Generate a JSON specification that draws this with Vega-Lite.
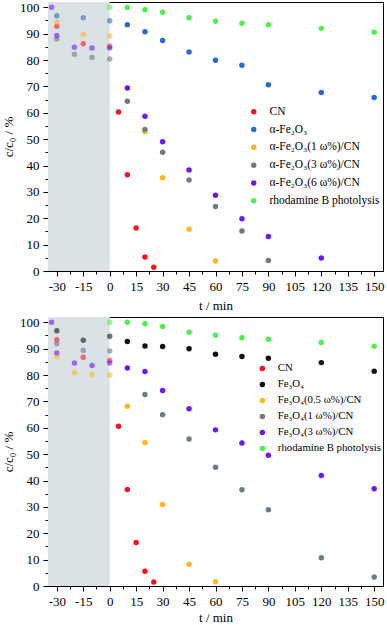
{
  "$schema": "https://vega.github.io/schema/vega-lite/v6.json",
  "padding": {"left": 2, "top": 0, "right": 0, "bottom": 0},
  "background": "white",
  "datasets": {
    "dark": [{"t0": -35, "t1": 0}],
    "a": [
      {"series": "CN", "t": -30, "c": 92.8}, {"series": "CN", "t": -15, "c": 86.2}, {"series": "CN", "t": 0, "c": 85.2},
      {"series": "CN", "t": 5, "c": 60.3}, {"series": "CN", "t": 10, "c": 36.5}, {"series": "CN", "t": 15, "c": 16.3},
      {"series": "CN", "t": 20, "c": 5.3}, {"series": "CN", "t": 25, "c": 1.4},
      {"series": "α-Fe₂O₃", "t": -30, "c": 96.8}, {"series": "α-Fe₂O₃", "t": -15, "c": 96.0}, {"series": "α-Fe₂O₃", "t": 0, "c": 94.9},
      {"series": "α-Fe₂O₃", "t": 10, "c": 93.4}, {"series": "α-Fe₂O₃", "t": 20, "c": 90.7}, {"series": "α-Fe₂O₃", "t": 30, "c": 87.4},
      {"series": "α-Fe₂O₃", "t": 45, "c": 83.0}, {"series": "α-Fe₂O₃", "t": 60, "c": 79.9}, {"series": "α-Fe₂O₃", "t": 75, "c": 78.0},
      {"series": "α-Fe₂O₃", "t": 90, "c": 70.6}, {"series": "α-Fe₂O₃", "t": 120, "c": 67.7}, {"series": "α-Fe₂O₃", "t": 150, "c": 65.8},
      {"series": "α-Fe₂O₃(1 ω%)/CN", "t": -30, "c": 94.4}, {"series": "α-Fe₂O₃(1 ω%)/CN", "t": -15, "c": 89.8}, {"series": "α-Fe₂O₃(1 ω%)/CN", "t": 0, "c": 89.1},
      {"series": "α-Fe₂O₃(1 ω%)/CN", "t": 20, "c": 52.8}, {"series": "α-Fe₂O₃(1 ω%)/CN", "t": 30, "c": 35.4}, {"series": "α-Fe₂O₃(1 ω%)/CN", "t": 45, "c": 15.8},
      {"series": "α-Fe₂O₃(1 ω%)/CN", "t": 60, "c": 3.8},
      {"series": "α-Fe₂O₃(3 ω%)/CN", "t": -30, "c": 88.0}, {"series": "α-Fe₂O₃(3 ω%)/CN", "t": -20, "c": 82.2}, {"series": "α-Fe₂O₃(3 ω%)/CN", "t": -10, "c": 81.0},
      {"series": "α-Fe₂O₃(3 ω%)/CN", "t": 0, "c": 80.4}, {"series": "α-Fe₂O₃(3 ω%)/CN", "t": 10, "c": 64.4}, {"series": "α-Fe₂O₃(3 ω%)/CN", "t": 20, "c": 53.7},
      {"series": "α-Fe₂O₃(3 ω%)/CN", "t": 30, "c": 45.0}, {"series": "α-Fe₂O₃(3 ω%)/CN", "t": 45, "c": 34.5}, {"series": "α-Fe₂O₃(3 ω%)/CN", "t": 60, "c": 24.5},
      {"series": "α-Fe₂O₃(3 ω%)/CN", "t": 75, "c": 15.2}, {"series": "α-Fe₂O₃(3 ω%)/CN", "t": 90, "c": 4.0},
      {"series": "α-Fe₂O₃(6 ω%)/CN", "t": -33, "c": 100.0}, {"series": "α-Fe₂O₃(6 ω%)/CN", "t": -30, "c": 89.3}, {"series": "α-Fe₂O₃(6 ω%)/CN", "t": -20, "c": 84.8},
      {"series": "α-Fe₂O₃(6 ω%)/CN", "t": -10, "c": 84.6}, {"series": "α-Fe₂O₃(6 ω%)/CN", "t": 0, "c": 84.6}, {"series": "α-Fe₂O₃(6 ω%)/CN", "t": 10, "c": 69.4},
      {"series": "α-Fe₂O₃(6 ω%)/CN", "t": 20, "c": 58.7}, {"series": "α-Fe₂O₃(6 ω%)/CN", "t": 30, "c": 49.0}, {"series": "α-Fe₂O₃(6 ω%)/CN", "t": 45, "c": 38.3},
      {"series": "α-Fe₂O₃(6 ω%)/CN", "t": 60, "c": 28.7}, {"series": "α-Fe₂O₃(6 ω%)/CN", "t": 75, "c": 19.8}, {"series": "α-Fe₂O₃(6 ω%)/CN", "t": 90, "c": 13.1},
      {"series": "α-Fe₂O₃(6 ω%)/CN", "t": 120, "c": 4.9},
      {"series": "rhodamine B photolysis", "t": 0, "c": 100.0}, {"series": "rhodamine B photolysis", "t": 10, "c": 99.9}, {"series": "rhodamine B photolysis", "t": 20, "c": 99.1},
      {"series": "rhodamine B photolysis", "t": 30, "c": 98.1}, {"series": "rhodamine B photolysis", "t": 45, "c": 96.0}, {"series": "rhodamine B photolysis", "t": 60, "c": 94.7},
      {"series": "rhodamine B photolysis", "t": 75, "c": 93.9}, {"series": "rhodamine B photolysis", "t": 90, "c": 93.4}, {"series": "rhodamine B photolysis", "t": 120, "c": 92.0},
      {"series": "rhodamine B photolysis", "t": 150, "c": 90.5}
    ],
    "b": [
      {"series": "CN", "t": -30, "c": 93.4}, {"series": "CN", "t": -15, "c": 86.7}, {"series": "CN", "t": 0, "c": 85.5},
      {"series": "CN", "t": 5, "c": 60.6}, {"series": "CN", "t": 10, "c": 36.6}, {"series": "CN", "t": 15, "c": 16.5},
      {"series": "CN", "t": 20, "c": 5.6}, {"series": "CN", "t": 25, "c": 1.5},
      {"series": "Fe₃O₄", "t": -30, "c": 96.8}, {"series": "Fe₃O₄", "t": -15, "c": 93.2}, {"series": "Fe₃O₄", "t": 0, "c": 94.7},
      {"series": "Fe₃O₄", "t": 10, "c": 92.7}, {"series": "Fe₃O₄", "t": 20, "c": 91.0}, {"series": "Fe₃O₄", "t": 30, "c": 90.8},
      {"series": "Fe₃O₄", "t": 45, "c": 90.0}, {"series": "Fe₃O₄", "t": 60, "c": 87.9}, {"series": "Fe₃O₄", "t": 75, "c": 87.0},
      {"series": "Fe₃O₄", "t": 90, "c": 86.4}, {"series": "Fe₃O₄", "t": 120, "c": 84.7}, {"series": "Fe₃O₄", "t": 150, "c": 81.4},
      {"series": "Fe₃O₄(0.5 ω%)/CN", "t": -30, "c": 87.1}, {"series": "Fe₃O₄(0.5 ω%)/CN", "t": -20, "c": 80.9}, {"series": "Fe₃O₄(0.5 ω%)/CN", "t": -10, "c": 80.3},
      {"series": "Fe₃O₄(0.5 ω%)/CN", "t": 0, "c": 80.0}, {"series": "Fe₃O₄(0.5 ω%)/CN", "t": 10, "c": 68.2}, {"series": "Fe₃O₄(0.5 ω%)/CN", "t": 20, "c": 54.4},
      {"series": "Fe₃O₄(0.5 ω%)/CN", "t": 30, "c": 30.9}, {"series": "Fe₃O₄(0.5 ω%)/CN", "t": 45, "c": 8.2}, {"series": "Fe₃O₄(0.5 ω%)/CN", "t": 60, "c": 1.6},
      {"series": "Fe₃O₄(1 ω%)/CN", "t": -30, "c": 91.9}, {"series": "Fe₃O₄(1 ω%)/CN", "t": -15, "c": 89.4}, {"series": "Fe₃O₄(1 ω%)/CN", "t": 0, "c": 89.1},
      {"series": "Fe₃O₄(1 ω%)/CN", "t": 20, "c": 72.6}, {"series": "Fe₃O₄(1 ω%)/CN", "t": 30, "c": 64.9}, {"series": "Fe₃O₄(1 ω%)/CN", "t": 45, "c": 55.7},
      {"series": "Fe₃O₄(1 ω%)/CN", "t": 60, "c": 45.0}, {"series": "Fe₃O₄(1 ω%)/CN", "t": 75, "c": 36.5}, {"series": "Fe₃O₄(1 ω%)/CN", "t": 90, "c": 28.9},
      {"series": "Fe₃O₄(1 ω%)/CN", "t": 120, "c": 10.7}, {"series": "Fe₃O₄(1 ω%)/CN", "t": 150, "c": 3.4},
      {"series": "Fe₃O₄(3 ω%)/CN", "t": -33, "c": 100.0}, {"series": "Fe₃O₄(3 ω%)/CN", "t": -30, "c": 88.4}, {"series": "Fe₃O₄(3 ω%)/CN", "t": -20, "c": 84.6},
      {"series": "Fe₃O₄(3 ω%)/CN", "t": -10, "c": 83.6}, {"series": "Fe₃O₄(3 ω%)/CN", "t": 0, "c": 84.6}, {"series": "Fe₃O₄(3 ω%)/CN", "t": 10, "c": 82.7},
      {"series": "Fe₃O₄(3 ω%)/CN", "t": 20, "c": 81.3}, {"series": "Fe₃O₄(3 ω%)/CN", "t": 30, "c": 74.1}, {"series": "Fe₃O₄(3 ω%)/CN", "t": 45, "c": 67.2},
      {"series": "Fe₃O₄(3 ω%)/CN", "t": 60, "c": 59.2}, {"series": "Fe₃O₄(3 ω%)/CN", "t": 75, "c": 54.2}, {"series": "Fe₃O₄(3 ω%)/CN", "t": 90, "c": 49.6},
      {"series": "Fe₃O₄(3 ω%)/CN", "t": 120, "c": 41.9}, {"series": "Fe₃O₄(3 ω%)/CN", "t": 150, "c": 36.9},
      {"series": "rhodamine B photolysis", "t": 0, "c": 100.0}, {"series": "rhodamine B photolysis", "t": 10, "c": 100.0}, {"series": "rhodamine B photolysis", "t": 20, "c": 99.4},
      {"series": "rhodamine B photolysis", "t": 30, "c": 98.4}, {"series": "rhodamine B photolysis", "t": 45, "c": 96.2}, {"series": "rhodamine B photolysis", "t": 60, "c": 95.1},
      {"series": "rhodamine B photolysis", "t": 75, "c": 94.1}, {"series": "rhodamine B photolysis", "t": 90, "c": 93.6}, {"series": "rhodamine B photolysis", "t": 120, "c": 92.3},
      {"series": "rhodamine B photolysis", "t": 150, "c": 90.9}
    ]
  },
  "config": {
    "font": "Liberation Serif",
    "view": {"stroke": "black", "strokeWidth": 1},
    "axis": {
      "domainColor": "black", "tickColor": "black", "labelColor": "black", "titleColor": "black",
      "labelFont": "Liberation Serif", "titleFont": "Liberation Serif",
      "labelFontSize": 13, "titleFontSize": 13, "titleFontWeight": "normal", "grid": false,
      "labelOverlap": false, "labelFlush": false
    },
    "legend": {
      "labelFont": "Liberation Serif", "labelFontSize": 11.5, "labelColor": "black",
      "symbolType": "circle", "symbolSize": 30, "symbolStrokeWidth": 0, "symbolOpacity": 1,
      "labelOffset": 10, "title": null, "labelLimit": 300
    }
  },
  "spacing": 2,
  "resolve": {"scale": {"color": "independent"}, "legend": {"color": "independent"}},
  "vconcat": [
    {
      "width": 335, "height": 269,
      "layer": [
        {
          "data": {"name": "dark"},
          "mark": {"type": "rect", "color": "#dbe2e5"},
          "encoding": {
            "x": {"field": "t0", "type": "quantitative", "title": "t / min", "scale": {"domain": [-35, 155], "nice": false, "zero": false},
              "axis": {"title": "t / min", "values": [-30, -22.5, -15, -7.5, 0, 7.5, 15, 22.5, 30, 37.5, 45, 52.5, 60, 67.5, 75, 82.5, 90, 97.5, 105, 112.5, 120, 127.5, 135, 142.5, 150], "labelExpr": "datum.value % 15 === 0 ? replace(datum.label, '−', '-') : ''", "tickSize": {"condition": {"test": "datum.value % 15 === 0", "value": 5}, "value": 3}, "labelPadding": 4, "titlePadding": 6}},
            "x2": {"field": "t1"},
            "y": {"datum": 0, "type": "quantitative", "title": "c/c₀ / %", "scale": {"domain": [0, 102], "nice": false},
              "axis": {"title": "c/c₀ / %", "values": [0, 5, 10, 15, 20, 25, 30, 35, 40, 45, 50, 55, 60, 65, 70, 75, 80, 85, 90, 95, 100], "labelExpr": "datum.value % 10 === 0 ? datum.label : ''", "tickSize": {"condition": {"test": "datum.value % 10 === 0", "value": 5}, "value": 3}, "labelPadding": 4, "titlePadding": 4}},
            "y2": {"datum": 102}
          }
        },
        {
          "mark": {"type": "text", "text": "dark", "color": "#5f6f7c", "fontSize": 12, "align": "left", "baseline": "alphabetic", "dx": 11, "dy": -6},
          "encoding": {
            "x": {"datum": -35, "type": "quantitative", "title": "t / min", "scale": {"domain": [-35, 155], "nice": false, "zero": false},
              "axis": {"title": "t / min", "values": [-30, -22.5, -15, -7.5, 0, 7.5, 15, 22.5, 30, 37.5, 45, 52.5, 60, 67.5, 75, 82.5, 90, 97.5, 105, 112.5, 120, 127.5, 135, 142.5, 150], "labelExpr": "datum.value % 15 === 0 ? replace(datum.label, '−', '-') : ''", "tickSize": {"condition": {"test": "datum.value % 15 === 0", "value": 5}, "value": 3}, "labelPadding": 4, "titlePadding": 6}},
            "y": {"datum": 0, "type": "quantitative", "title": "c/c₀ / %", "scale": {"domain": [0, 102], "nice": false},
              "axis": {"title": "c/c₀ / %", "values": [0, 5, 10, 15, 20, 25, 30, 35, 40, 45, 50, 55, 60, 65, 70, 75, 80, 85, 90, 95, 100], "labelExpr": "datum.value % 10 === 0 ? datum.label : ''", "tickSize": {"condition": {"test": "datum.value % 10 === 0", "value": 5}, "value": 3}, "labelPadding": 4, "titlePadding": 4}}
          }
        },
        {
          "mark": {"type": "text", "text": "a)", "color": "black", "fontSize": 14, "align": "left", "baseline": "middle", "dx": -48, "dy": 4},
          "encoding": {
            "x": {"datum": -35, "type": "quantitative", "title": "t / min", "scale": {"domain": [-35, 155], "nice": false, "zero": false},
              "axis": {"title": "t / min", "values": [-30, -22.5, -15, -7.5, 0, 7.5, 15, 22.5, 30, 37.5, 45, 52.5, 60, 67.5, 75, 82.5, 90, 97.5, 105, 112.5, 120, 127.5, 135, 142.5, 150], "labelExpr": "datum.value % 15 === 0 ? replace(datum.label, '−', '-') : ''", "tickSize": {"condition": {"test": "datum.value % 15 === 0", "value": 5}, "value": 3}, "labelPadding": 4, "titlePadding": 6}},
            "y": {"datum": 100, "type": "quantitative", "title": "c/c₀ / %", "scale": {"domain": [0, 102], "nice": false},
              "axis": {"title": "c/c₀ / %", "values": [0, 5, 10, 15, 20, 25, 30, 35, 40, 45, 50, 55, 60, 65, 70, 75, 80, 85, 90, 95, 100], "labelExpr": "datum.value % 10 === 0 ? datum.label : ''", "tickSize": {"condition": {"test": "datum.value % 10 === 0", "value": 5}, "value": 3}, "labelPadding": 4, "titlePadding": 4}}
          }
        },
        {
          "data": {"name": "a"},
          "mark": {"type": "point", "filled": true, "size": 30},
          "encoding": {
            "x": {"field": "t", "type": "quantitative", "title": "t / min", "scale": {"domain": [-35, 155], "nice": false, "zero": false},
              "axis": {"title": "t / min", "values": [-30, -22.5, -15, -7.5, 0, 7.5, 15, 22.5, 30, 37.5, 45, 52.5, 60, 67.5, 75, 82.5, 90, 97.5, 105, 112.5, 120, 127.5, 135, 142.5, 150], "labelExpr": "datum.value % 15 === 0 ? replace(datum.label, '−', '-') : ''", "tickSize": {"condition": {"test": "datum.value % 15 === 0", "value": 5}, "value": 3}, "labelPadding": 4, "titlePadding": 6}},
            "y": {"field": "c", "type": "quantitative", "title": "c/c₀ / %", "scale": {"domain": [0, 102], "nice": false},
              "axis": {"title": "c/c₀ / %", "values": [0, 5, 10, 15, 20, 25, 30, 35, 40, 45, 50, 55, 60, 65, 70, 75, 80, 85, 90, 95, 100], "labelExpr": "datum.value % 10 === 0 ? datum.label : ''", "tickSize": {"condition": {"test": "datum.value % 10 === 0", "value": 5}, "value": 3}, "labelPadding": 4, "titlePadding": 4}},
            "color": {
              "field": "series", "type": "nominal",
              "scale": {
                "domain": ["CN", "α-Fe₂O₃", "α-Fe₂O₃(1 ω%)/CN", "α-Fe₂O₃(3 ω%)/CN", "α-Fe₂O₃(6 ω%)/CN", "rhodamine B photolysis"],
                "range": ["#ff1020", "#2a6bd0", "#ffb81a", "#6d7b87", "#7018f0", "#4cf24c"]
              },
              "legend": {"orient": "none", "legendX": 200, "legendY": 104, "rowPadding": 4.8}
            },
            "opacity": {"condition": {"test": "datum.t <= 0", "value": 0.6}, "value": 1}
          }
        }
      ]
    },
    {
      "width": 335, "height": 269,
      "layer": [
        {
          "data": {"name": "dark"},
          "mark": {"type": "rect", "color": "#dbe2e5"},
          "encoding": {
            "x": {"field": "t0", "type": "quantitative", "title": "t / min", "scale": {"domain": [-35, 155], "nice": false, "zero": false},
              "axis": {"title": "t / min", "values": [-30, -22.5, -15, -7.5, 0, 7.5, 15, 22.5, 30, 37.5, 45, 52.5, 60, 67.5, 75, 82.5, 90, 97.5, 105, 112.5, 120, 127.5, 135, 142.5, 150], "labelExpr": "datum.value % 15 === 0 ? replace(datum.label, '−', '-') : ''", "tickSize": {"condition": {"test": "datum.value % 15 === 0", "value": 5}, "value": 3}, "labelPadding": 4, "titlePadding": 3}},
            "x2": {"field": "t1"},
            "y": {"datum": 0, "type": "quantitative", "title": "c/c₀ / %", "scale": {"domain": [0, 102], "nice": false},
              "axis": {"title": "c/c₀ / %", "values": [0, 5, 10, 15, 20, 25, 30, 35, 40, 45, 50, 55, 60, 65, 70, 75, 80, 85, 90, 95, 100], "labelExpr": "datum.value % 10 === 0 ? datum.label : ''", "tickSize": {"condition": {"test": "datum.value % 10 === 0", "value": 5}, "value": 3}, "labelPadding": 4, "titlePadding": 4}},
            "y2": {"datum": 102}
          }
        },
        {
          "mark": {"type": "text", "text": "dark", "color": "#5f6f7c", "fontSize": 12, "align": "left", "baseline": "alphabetic", "dx": 11, "dy": -6},
          "encoding": {
            "x": {"datum": -35, "type": "quantitative", "title": "t / min", "scale": {"domain": [-35, 155], "nice": false, "zero": false},
              "axis": {"title": "t / min", "values": [-30, -22.5, -15, -7.5, 0, 7.5, 15, 22.5, 30, 37.5, 45, 52.5, 60, 67.5, 75, 82.5, 90, 97.5, 105, 112.5, 120, 127.5, 135, 142.5, 150], "labelExpr": "datum.value % 15 === 0 ? replace(datum.label, '−', '-') : ''", "tickSize": {"condition": {"test": "datum.value % 15 === 0", "value": 5}, "value": 3}, "labelPadding": 4, "titlePadding": 3}},
            "y": {"datum": 0, "type": "quantitative", "title": "c/c₀ / %", "scale": {"domain": [0, 102], "nice": false},
              "axis": {"title": "c/c₀ / %", "values": [0, 5, 10, 15, 20, 25, 30, 35, 40, 45, 50, 55, 60, 65, 70, 75, 80, 85, 90, 95, 100], "labelExpr": "datum.value % 10 === 0 ? datum.label : ''", "tickSize": {"condition": {"test": "datum.value % 10 === 0", "value": 5}, "value": 3}, "labelPadding": 4, "titlePadding": 4}}
          }
        },
        {
          "mark": {"type": "text", "text": "b)", "color": "black", "fontSize": 14, "align": "left", "baseline": "middle", "dx": -47, "dy": 4},
          "encoding": {
            "x": {"datum": -35, "type": "quantitative", "title": "t / min", "scale": {"domain": [-35, 155], "nice": false, "zero": false},
              "axis": {"title": "t / min", "values": [-30, -22.5, -15, -7.5, 0, 7.5, 15, 22.5, 30, 37.5, 45, 52.5, 60, 67.5, 75, 82.5, 90, 97.5, 105, 112.5, 120, 127.5, 135, 142.5, 150], "labelExpr": "datum.value % 15 === 0 ? replace(datum.label, '−', '-') : ''", "tickSize": {"condition": {"test": "datum.value % 15 === 0", "value": 5}, "value": 3}, "labelPadding": 4, "titlePadding": 3}},
            "y": {"datum": 100, "type": "quantitative", "title": "c/c₀ / %", "scale": {"domain": [0, 102], "nice": false},
              "axis": {"title": "c/c₀ / %", "values": [0, 5, 10, 15, 20, 25, 30, 35, 40, 45, 50, 55, 60, 65, 70, 75, 80, 85, 90, 95, 100], "labelExpr": "datum.value % 10 === 0 ? datum.label : ''", "tickSize": {"condition": {"test": "datum.value % 10 === 0", "value": 5}, "value": 3}, "labelPadding": 4, "titlePadding": 4}}
          }
        },
        {
          "data": {"name": "b"},
          "mark": {"type": "point", "filled": true, "size": 30},
          "encoding": {
            "x": {"field": "t", "type": "quantitative", "title": "t / min", "scale": {"domain": [-35, 155], "nice": false, "zero": false},
              "axis": {"title": "t / min", "values": [-30, -22.5, -15, -7.5, 0, 7.5, 15, 22.5, 30, 37.5, 45, 52.5, 60, 67.5, 75, 82.5, 90, 97.5, 105, 112.5, 120, 127.5, 135, 142.5, 150], "labelExpr": "datum.value % 15 === 0 ? replace(datum.label, '−', '-') : ''", "tickSize": {"condition": {"test": "datum.value % 15 === 0", "value": 5}, "value": 3}, "labelPadding": 4, "titlePadding": 3}},
            "y": {"field": "c", "type": "quantitative", "title": "c/c₀ / %", "scale": {"domain": [0, 102], "nice": false},
              "axis": {"title": "c/c₀ / %", "values": [0, 5, 10, 15, 20, 25, 30, 35, 40, 45, 50, 55, 60, 65, 70, 75, 80, 85, 90, 95, 100], "labelExpr": "datum.value % 10 === 0 ? datum.label : ''", "tickSize": {"condition": {"test": "datum.value % 10 === 0", "value": 5}, "value": 3}, "labelPadding": 4, "titlePadding": 4}},
            "color": {
              "field": "series", "type": "nominal",
              "scale": {
                "domain": ["CN", "Fe₃O₄", "Fe₃O₄(0.5 ω%)/CN", "Fe₃O₄(1 ω%)/CN", "Fe₃O₄(3 ω%)/CN", "rhodamine B photolysis"],
                "range": ["#ff1020", "#111111", "#ffb81a", "#6d7b87", "#7018f0", "#4cf24c"]
              },
              "legend": {"orient": "none", "legendX": 209, "legendY": 46, "rowPadding": 4, "labelFontSize": 10.8}
            },
            "opacity": {"condition": {"test": "datum.t <= 0", "value": 0.6}, "value": 1}
          }
        }
      ]
    }
  ]
}
